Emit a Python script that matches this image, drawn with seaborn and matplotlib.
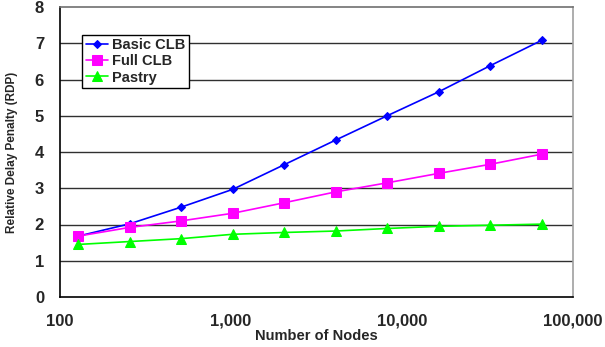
import matplotlib
matplotlib.use("Agg")
import matplotlib.pyplot as plt
import seaborn as sns
import pandas as pd
from matplotlib.ticker import FixedLocator, FuncFormatter, NullLocator

nodes = [128, 256, 512, 1024, 2048, 4096, 8192, 16384, 32768, 65536]
basic_clb = [1.68, 2.02, 2.48, 2.97, 3.65, 4.33, 5.00, 5.66, 6.38, 7.08]
full_clb = [1.68, 1.92, 2.10, 2.31, 2.60, 2.90, 3.15, 3.41, 3.66, 3.94]
pastry = [1.45, 1.53, 1.61, 1.73, 1.78, 1.82, 1.89, 1.95, 1.98, 2.01]

series_names = ["Basic CLB", "Full CLB", "Pastry"]
x_ticks = [100, 1000, 10000, 100000]
y_ticks = [0, 1, 2, 3, 4, 5, 6, 7, 8]

df = pd.DataFrame({
    "nodes": nodes * 3,
    "rdp": basic_clb + full_clb + pastry,
    "series": [s for s in series_names for _ in nodes],
})

sns.set_theme(style="white")
plt.rcParams["font.family"] = ["Liberation Sans", "DejaVu Sans"]

fig = plt.figure(figsize=(6.05, 3.47), dpi=100)
ax = fig.add_axes([60 / 605, 50 / 347, 513 / 605, 290 / 347])

palette = {"Basic CLB": "#0000FF", "Full CLB": "#FF00FF", "Pastry": "#00FF00"}
markers = {"Basic CLB": "D", "Full CLB": "s", "Pastry": "^"}
sizes = {"Basic CLB": 4.5, "Full CLB": 7, "Pastry": 7.5}

for name in series_names:
    sub = df[df["series"] == name]
    sns.lineplot(data=sub, x="nodes", y="rdp", ax=ax, color=palette[name],
                 marker=markers[name], markersize=sizes[name],
                 markeredgecolor=palette[name], linewidth=1.2, label=name)

ax.set_xscale("log")
ax.set_xlim(100, 100000)
ax.set_ylim(0, 8)

ax.xaxis.set_major_locator(FixedLocator(x_ticks))
ax.xaxis.set_minor_locator(NullLocator())
ax.xaxis.set_major_formatter(FuncFormatter(lambda v, p: f"{int(round(v)):,}"))
ax.set_yticks(y_ticks)

for y in y_ticks[1:-1]:
    ax.axhline(y, color="#303030", linewidth=1.0, zorder=0)

ax.tick_params(axis="both", which="major", direction="out", length=5, width=1,
               color="black", labelsize=12)
ax.tick_params(axis="x", pad=7)
ax.tick_params(axis="y", pad=6.5)
for lbl in ax.get_xticklabels() + ax.get_yticklabels():
    lbl.set_fontweight("bold")

for side in ["left", "bottom"]:
    ax.spines[side].set_color("black")
    ax.spines[side].set_linewidth(1.2)
for side in ["top", "right"]:
    ax.spines[side].set_color("#a0a0a0")
    ax.spines[side].set_linewidth(1.2)
ax.spines["top"].set_color("#707070")

ax.set_xlabel("Number of Nodes", fontsize=10.5, fontweight="bold", labelpad=0)
ax.set_ylabel("Relative Delay Penalty (RDP)", fontsize=8.5, fontweight="bold", labelpad=12)

leg = ax.legend(loc="upper left", bbox_to_anchor=(0.043, 0.905), fontsize=10.5,
                frameon=True, fancybox=False, shadow=False, borderpad=0.25,
                labelspacing=0.15, handlelength=1.5, handletextpad=0.3,
                borderaxespad=0)
leg.get_frame().set_edgecolor("black")
leg.get_frame().set_linewidth(1.0)
leg.get_frame().set_alpha(1)
for t in leg.get_texts():
    t.set_fontweight("bold")

fig.savefig("out.png", dpi=100)
